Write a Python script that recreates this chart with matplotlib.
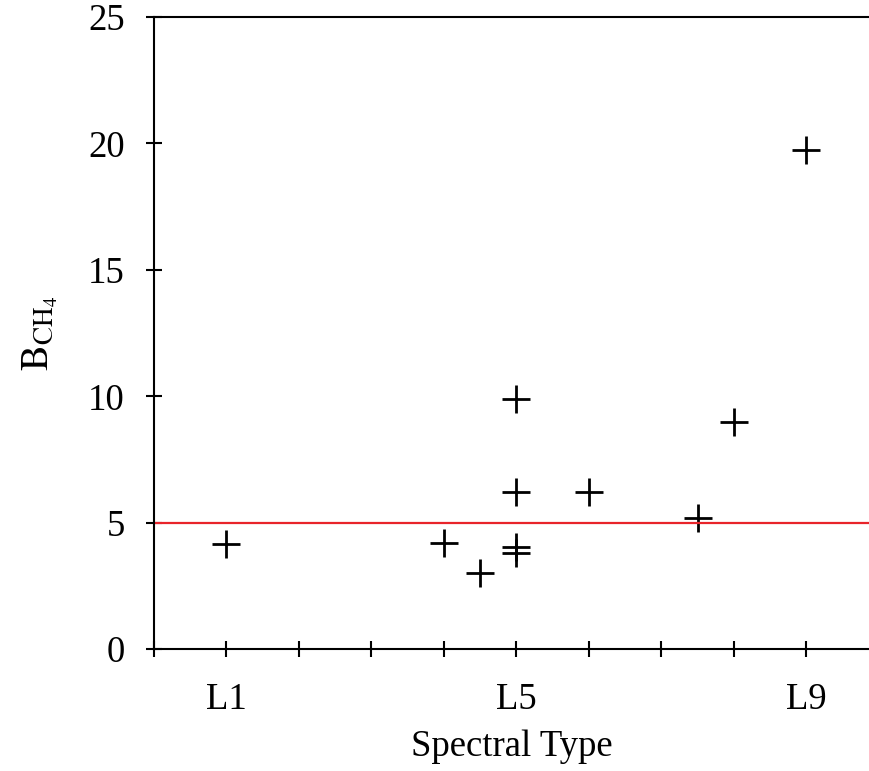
import numpy as np
import matplotlib.pyplot as plt
from matplotlib.ticker import MultipleLocator

plt.rcParams['font.family'] = 'Liberation Serif'
plt.rcParams['mathtext.fontset'] = 'stix'

# spectral type (L0 = 0) and B_CH4 index
spectral_type = [1.0, 4.0, 4.5, 5.0, 5.0, 5.0, 5.0, 6.0, 7.5, 8.0, 9.0]
b_ch4 = [4.15, 4.2, 3.0, 9.9, 6.2, 4.05, 3.8, 6.2, 5.2, 9.0, 19.75]
threshold = 5.0

tick_pos = [1, 5, 9]
tick_labels = ['L1', 'L5', 'L9']

fig = plt.figure(figsize=(8.7, 7.71), dpi=100)
ax = fig.add_axes([0.177, 0.158, 0.823, 0.820])

ax.plot(spectral_type, b_ch4, linestyle='none', marker='+', color='black',
        markersize=20, markeredgewidth=2)
ax.axhline(threshold, color='#e8242a', linewidth=1.6)

ax.set_xlim(0, 9.88)
ax.set_ylim(0, 25)
ax.set_xticks(tick_pos)
ax.set_xticklabels(tick_labels)
ax.xaxis.set_minor_locator(MultipleLocator(1))
ax.set_yticks(np.arange(0, 26, 5))

ax.spines['right'].set_visible(False)
for s in ['left', 'bottom', 'top']:
    ax.spines[s].set_linewidth(1.5)

ax.tick_params(which='both', direction='inout', width=1.5, labelsize=26.5)
ax.tick_params(which='major', length=12)
ax.tick_params(which='minor', length=12)
ax.tick_params(axis='x', pad=18)
ax.tick_params(axis='y', pad=15)

ax.set_xlabel('Spectral Type', fontsize=26.5, labelpad=9)
ax.set_ylabel(r'$\mathrm{B_{CH_4}}$', fontsize=28, labelpad=20)

fig.savefig('out.png', dpi=100)
